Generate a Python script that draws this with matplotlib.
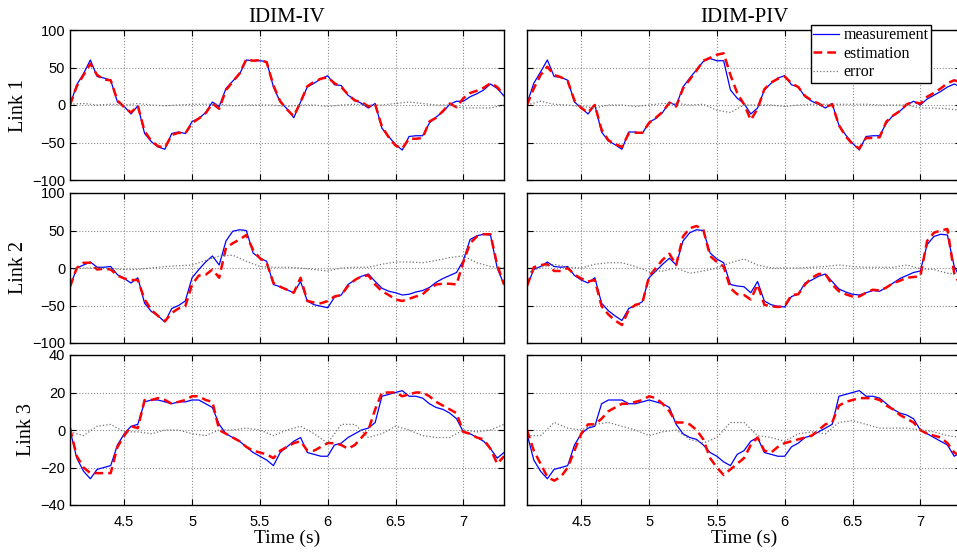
import numpy as np
import matplotlib
matplotlib.use("Agg")
import matplotlib.pyplot as plt

# sample grid of the recorded signals (s)
t = np.linspace(4.10, 7.30, 65)
t_err = np.linspace(4.10, 7.30, 33)

titles = ["IDIM-IV", "IDIM-PIV"]
links = ["Link 1", "Link 2", "Link 3"]

# ---- Link 1 ----
l1_iv_meas = [0, 27, 42, 60, 38, 36, 33, 4, -2, -12, -1, -38, -49, -56, -59, -38, -36, -38, -22, -18, -10, 4, -2,
              22, 32, 41, 60, 59, 59, 58, 24, 4, -5,
              -17, 4, 24, 29, 35, 39, 27, 26, 13, 7, 2, -4, 2, -31, -42, -53, -60, -42, -41, -41, -24, -16, -9, 1,
              5, 5, 11, 15, 20, 28, 22, 12]
l1_iv_est = [0, 25, 40, 55, 40, 34, 33, 6, -3, -10, -1, -35, -48, -55, -57, -40, -37, -38, -24, -18, -11, 2, -5,
             20, 31, 42, 61, 59, 60, 57, 26, 5, -6,
             -15, 4, 25, 31, 35, 37, 29, 24, 14, 6, 4, -2, 1, -29, -43, -54, -58, -45, -45, -44, -22, -17, -8, 2,
             -3, 9, 16, 19, 23, 29, 24, 13]
l1_iv_err = [1, 2, 0, 1, 0, 2, 0, -1, 0, 1, 1, 1, -1, 0, 0, 0, -2,
             0, 0, -2, 0, 1, 0, 0, 2, 4, 2, 0, 0, -4, -4, -4, 0]

l1_piv_meas = [2, 29, 44, 60, 38, 37, 33, 4, -4, -12, 0, -36, -48, -53, -59, -36, -36, -38, -23, -18, -10, 4, -1,
               24, 36, 47, 58, 62, 59, 59, 20, 9, 2,
               -12, -4, 20, 29, 36, 39, 27, 24, 11, 5, 1, -4, 2, -27, -40, -51, -60, -42, -41, -41, -24, -14, -8, 0,
               5, 0, 8, 13, 18, 24, 28, 24]
l1_piv_est = [0, 22, 40, 51, 40, 37, 32, 6, -4, -10, 0, -33, -47, -52, -56, -38, -37, -37, -24, -17, -9, 3, -2,
              22, 34, 46, 59, 63, 67, 69, 40, 16, 1,
              -20, -5, 21, 30, 35, 38, 29, 24, 12, 6, 2, -3, 1, -27, -42, -52, -58, -44, -44, -43, -22, -14, -8, 1,
              4, 2, 11, 16, 22, 29, 33, 30]
l1_piv_err = [0, 5, 1, 0, -2, -4, 0, 0, -2, 0, 2, 2, 0, 1, -7, -10, 0,
              0, 0, -2, 0, 1, 1, 1, 1, 1, 0, 0, 0, -4, -4, -5, -7]

# ---- Link 2 ----
l2_iv_meas = [-25, 0, 4, 8, 1, 1, 2, -9, -14, -20, -13, -47, -58, -64, -72, -54, -50, -44, -13, -2, 8, 16, 4,
              36, 49, 51, 50, 20, 13, 9, -22, -25, -29,
              -33, -18, -44, -49, -51, -53, -39, -36, -22, -16, -11, -8, -18, -27, -31, -33, -36, -35, -32, -30,
              -26, -19, -14, -10, -6, 10, 38, 43, 45, 44, 0, -22]
l2_iv_est = [-25, 0, 7, 7, -2, -1, -2, -10, -14, -16, -16, -42, -56, -64, -71, -60, -54, -51, -22, -10, -9, -2, -13,
             27, 33, 38, 44, 24, 13, 7, -20, -25, -29,
             -33, -13, -44, -46, -47, -44, -38, -36, -24, -16, -11, -10, -22, -31, -36, -42, -44, -41, -38, -35,
             -27, -22, -21, -21, -22, 8, 33, 42, 45, 45, 4, -22]
l2_iv_err = [-2, 0, 0, -1, -2, -2, 0, 2, 3, 4, 10, 16, 17, 9, 2, 1, 1,
             0, -2, -4, 0, 1, 1, 5, 8, 8, 7, 10, 14, 16, 7, 2, 0]

l2_piv_meas = [-24, -2, 2, 8, 2, 1, 2, -10, -16, -20, -13, -47, -57, -64, -70, -54, -50, -45, -13, -4, 5, 13, 4,
               36, 47, 51, 50, 20, 12, 7, -22, -24, -25,
               -33, -18, -44, -49, -51, -52, -38, -35, -20, -16, -11, -8, -18, -28, -32, -35, -36, -33, -30, -31,
               -26, -20, -14, -10, -6, -4, 31, 42, 45, 44, 2, -15]
l2_piv_est = [-24, 1, 4, 5, -4, -4, 0, -9, -14, -18, -16, -51, -62, -70, -76, -56, -49, -47, -11, 0, 11, 19, 4,
              42, 53, 56, 51, 16, 8, 2, -27, -35, -36,
              -42, -22, -49, -51, -52, -51, -36, -35, -22, -13, -8, -8, -22, -31, -35, -38, -38, -33, -29, -30,
              -26, -20, -17, -13, -12, -11, 36, 47, 50, 52, -7, -25]
l2_piv_err = [-7, 1, 5, 1, 0, 5, 7, 7, 2, -5, -4, 0, -7, -4, 0, 7, 12,
              4, 0, 0, 0, 1, 2, 4, 2, 1, 1, 1, 4, -1, -2, -7, -9]

# ---- Link 3 ----
l3_iv_meas = [0, -15, -22, -26, -21, -20, -19, -8, -2, 2, 3, 15, 16, 16, 15, 14, 15, 15, 16, 16, 14, 12, 3,
              -2, -4, -6, -9, -12, -14, -16, -19, -12, -9,
              -6, -4, -12, -13, -14, -14, -8, -7, -4, -2, 0, 1, 4, 18, 19, 20, 21, 18, 18, 17, 14, 12, 11, 9,
              6, -1, -2, -4, -6, -10, -15, -12]
l3_iv_est = [1, -14, -20, -23, -23, -23, -23, -9, -3, 2, 1, 16, 16, 17, 16, 14, 15, 16, 18, 18, 16, 15, 0,
             -2, -4, -6, -9, -11, -12, -13, -15, -11, -9,
             -7, -6, -11, -11, -9, -7, -7, -8, -10, -8, -4, 0, 11, 20, 20, 20, 18, 19, 20, 20, 18, 15, 13, 11,
             9, -1, -2, -4, -5, -10, -18, -14]
l3_iv_err = [-1, -3, 2, 3, -1, -1, -2, 0, 0, -2, -3, 0, 0, 1, 0, -3, 0,
             2, -2, -7, 3, 3, -4, -2, 2, 0, -3, -4, -4, 0, -1, 0, 3]

l3_piv_meas = [-2, -16, -22, -26, -21, -20, -19, -8, -2, 1, 2, 14, 16, 16, 16, 14, 14, 15, 16, 15, 14, 12, 3,
               -2, -4, -5, -8, -12, -14, -17, -19, -13, -11,
               -6, -4, -12, -13, -14, -14, -9, -7, -4, -3, -1, 1, 3, 18, 19, 20, 21, 18, 18, 17, 14, 11, 9, 8,
               6, 0, -2, -4, -6, -8, -14, -12]
l3_piv_est = [0, -11, -18, -25, -27, -25, -20, -11, -2, 3, 3, 6, 10, 12, 14, 14, 15, 16, 18, 17, 14, 10, 4,
              4, 3, 0, -5, -15, -20, -24, -21, -18, -15,
              -8, -4, -11, -12, -9, -7, -6, -5, -4, -3, 0, 3, 4, 13, 15, 16, 17, 17, 17, 16, 13, 11, 8, 6,
              4, 0, -2, -3, -4, -7, -12, -14]
l3_piv_err = [-3, -3, 4, 1, 0, 3, 4, 2, 0, -3, -1, 0, -5, -7, -4, 4, 4,
              -3, -4, -6, -2, -1, -2, 4, 5, 3, 1, 1, 1, 0, -1, -3, -4]

data = [
    [(l1_iv_meas, l1_iv_est, l1_iv_err), (l1_piv_meas, l1_piv_est, l1_piv_err)],
    [(l2_iv_meas, l2_iv_est, l2_iv_err), (l2_piv_meas, l2_piv_est, l2_piv_err)],
    [(l3_iv_meas, l3_iv_est, l3_iv_err), (l3_piv_meas, l3_piv_est, l3_piv_err)],
]
ylims = [(-100, 100), (-100, 100), (-40, 40)]
yticks = [[-100, -50, 0, 50, 100], [-100, -50, 0, 50, 100], [-40, -20, 0, 20, 40]]
xticks = [4.5, 5, 5.5, 6, 6.5, 7]

serif = ["Liberation Serif", "DejaVu Serif"]
plt.rcParams["font.family"] = ["Liberation Sans", "DejaVu Sans"]

W, H = 957, 552
fig = plt.figure(figsize=(W / 100, H / 100), dpi=100)

col_left = [70, 527]
col_width = 434
row_top = [30, 193, 355]
row_height = 150

for r in range(3):
    for c in range(2):
        ax = fig.add_axes([col_left[c] / W, 1 - (row_top[r] + row_height) / H,
                           col_width / W, row_height / H])
        meas, est, err = data[r][c]
        ax.plot(t, meas, color="blue", lw=0.9, label="measurement")
        ax.plot(t, est, color="red", lw=1.8, ls=(0, (3.5, 2)), label="estimation")
        ax.plot(t_err, err, color="0.45", lw=0.9, ls=":", label="error")
        ax.set_xlim(4.1, 7.3)
        ax.set_ylim(*ylims[r])
        ax.set_xticks(xticks)
        ax.set_yticks(yticks[r])
        ax.grid(True, ls=":", color="0.55", lw=0.8)
        ax.tick_params(direction="in", top=True, right=True, length=4, labelsize=10.5)
        ax.tick_params(axis="x", pad=7)
        for sp in ax.spines.values():
            sp.set_linewidth(1.0)
        if r < 2:
            ax.set_xticklabels([])
        else:
            ax.set_xticklabels(["4.5", "5", "5.5", "6", "6.5", "7"])
            ax.set_xlabel("Time (s)", family=serif, fontsize=14, labelpad=1)
        if c == 1:
            ax.set_yticklabels([])
        else:
            ax.set_ylabel(links[r], family=serif, fontsize=14.5, labelpad=3)
        if r == 0:
            ax.set_title(titles[c], family=serif, fontsize=15, pad=6)
        if r == 0 and c == 1:
            ax.legend(loc="upper left", bbox_to_anchor=(811 / W, 1 - 25 / H),
                      bbox_transform=fig.transFigure, borderaxespad=0,
                      prop={"family": serif, "size": 11.5}, fancybox=False,
                      edgecolor="black", framealpha=1, handlelength=1.6,
                      labelspacing=0.15, borderpad=0.15, handletextpad=0.3)

fig.savefig("out.png", dpi=100)
